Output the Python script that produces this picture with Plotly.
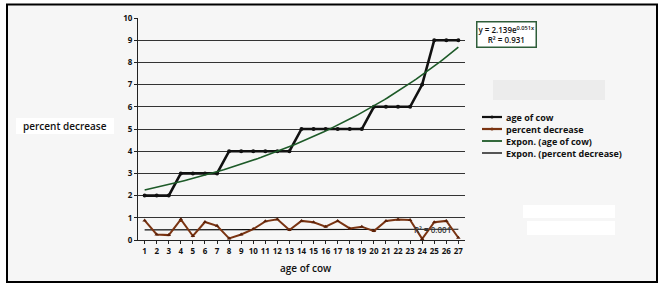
import numpy as np
import plotly.graph_objects as go

ages = list(range(1, 28))
age_of_cow = [2, 2, 2, 3, 3, 3, 3, 4, 4, 4, 4, 4, 4, 5, 5, 5, 5, 5, 5, 6, 6, 6, 6, 7, 9, 9, 9]
percent_decrease = [0.88, 0.25, 0.22, 0.93, 0.18, 0.81, 0.64, 0.07, 0.25, 0.49, 0.84, 0.93, 0.45,
                    0.86, 0.80, 0.60, 0.86, 0.52, 0.60, 0.40, 0.86, 0.92, 0.90, 0.05, 0.80, 0.86, 0.10]
y_ticks = list(range(0, 11))
eq_text = "y = 2.139e<sup>0.051x</sup><br>R² = 0.931"
r2_pct_text = "R² = 0.001"

FONT = "Open Sans"
TXT = "#111111"

def expfit(x, y):
    b, a = np.polyfit(np.array(x, float), np.log(np.array(y, float)), 1)
    xs = np.linspace(min(x), max(x), 120)
    return xs, np.exp(a) * np.exp(b * xs)

xa, ya = expfit(ages, age_of_cow)
xp, yp = expfit(ages, percent_decrease)

fig = go.Figure()
fig.add_trace(go.Scatter(x=xp, y=yp, mode="lines", line=dict(color="#111111", width=1.2),
                         name="Expon. (percent decrease)", hoverinfo="skip"))
fig.add_trace(go.Scatter(x=ages, y=percent_decrease, mode="lines+markers",
                         line=dict(color="#7a3412", width=2),
                         marker=dict(symbol="triangle-up", size=4, color="#5a2008"),
                         name="percent decrease"))
fig.add_trace(go.Scatter(x=ages, y=age_of_cow, mode="lines+markers",
                         line=dict(color="#111111", width=2.6),
                         marker=dict(symbol="circle", size=4, color="#111111"),
                         name="age of cow"))
fig.add_trace(go.Scatter(x=xa, y=ya, mode="lines", line=dict(color="#1d5a28", width=1.6),
                         name="Expon. (age of cow)", hoverinfo="skip"))

L, R, T, B = 138, 199, 18, 48
PW, PH = 664 - L - R, 288 - T - B

def px(x):
    return (x - L) / PW

def py(y):
    return (288 - B - y) / PH

shapes = [
    dict(type="rect", xref="paper", yref="paper", x0=px(7), x1=px(657), y0=py(282), y1=py(4.5),
         line=dict(color="#000000", width=2), fillcolor="#f6f6f6", layer="below"),
    dict(type="rect", xref="paper", yref="paper", x0=px(523), x1=px(615), y0=py(218), y1=py(205),
         line=dict(width=0), fillcolor="#ffffff", layer="below"),
    dict(type="rect", xref="paper", yref="paper", x0=px(527), x1=px(615), y0=py(235), y1=py(221),
         line=dict(width=0), fillcolor="#ffffff", layer="below"),
    dict(type="rect", xref="paper", yref="paper", x0=px(493), x1=px(605), y0=py(100), y1=py(80),
         line=dict(width=0), fillcolor="#ececec", layer="below"),
    dict(type="rect", xref="paper", yref="paper", x0=px(16), x1=px(114), y0=py(134), y1=py(118),
         line=dict(width=0), fillcolor="#ffffff", layer="below"),
]

def ann(text, x, y, size, xanchor="center", color=TXT, weight=600, **kw):
    d = dict(text=text, xref="paper", yref="paper", x=px(x), y=py(y), xanchor=xanchor,
             yanchor="middle", showarrow=False,
             font=dict(family=FONT, size=size, color=color, weight=weight))
    d.update(kw)
    return d

annotations = [
    ann("percent decrease", 65, 126, 10),
    ann("age of cow", 306, 268, 10),
    ann(eq_text, 506, 34, 8, align="center", bgcolor="#ffffff", bordercolor="#2f5e3a",
        borderwidth=1.5, borderpad=1),
    ann(r2_pct_text, 432, 229, 8, color="#333333"),
]

legend_rows = [
    ("age of cow", "#111111", 2.2, True, 117),
    ("percent decrease", "#7a3412", 2.2, True, 129),
    ("Expon. (age of cow)", "#1d5a28", 1.8, False, 141),
    ("Expon. (percent decrease)", "#111111", 1.4, False, 153),
]
for label, col, w, mk, yy in legend_rows:
    shapes.append(dict(type="line", xref="paper", yref="paper", x0=px(482), x1=px(502),
                       y0=py(yy), y1=py(yy), line=dict(color=col, width=w)))
    if mk:
        shapes.append(dict(type="circle", xref="paper", yref="paper", x0=px(490.5), x1=px(493.5),
                           y0=py(yy + 1.5), y1=py(yy - 1.5), fillcolor=col, line=dict(width=0)))
    annotations.append(ann(label, 505, yy, 9, xanchor="left", weight=700, borderpad=0))

fig.update_layout(
    width=664, height=288,
    margin=dict(l=L, r=R, t=T, b=B),
    paper_bgcolor="#ffffff",
    plot_bgcolor="#fafafa",
    showlegend=False,
    shapes=shapes,
    annotations=annotations,
    xaxis=dict(range=[0.45, 27.55], tickmode="array", tickvals=ages, ticktext=[str(a) for a in ages],
               showgrid=False, zeroline=False, showline=True, linecolor="#222222", linewidth=1,
               ticks="outside", ticklen=3, tickcolor="#222222",
               tickfont=dict(family=FONT, size=8, color=TXT, weight=700)),
    yaxis=dict(range=[0, 10], tickmode="array", tickvals=y_ticks, ticktext=[str(v) for v in y_ticks],
               showgrid=True, gridcolor="#333333", gridwidth=1, zeroline=False,
               showline=True, linecolor="#222222", linewidth=1,
               ticks="outside", ticklen=3, tickcolor="#222222",
               tickfont=dict(family=FONT, size=8, color=TXT, weight=700)),
)

fig.write_html("out.html")
